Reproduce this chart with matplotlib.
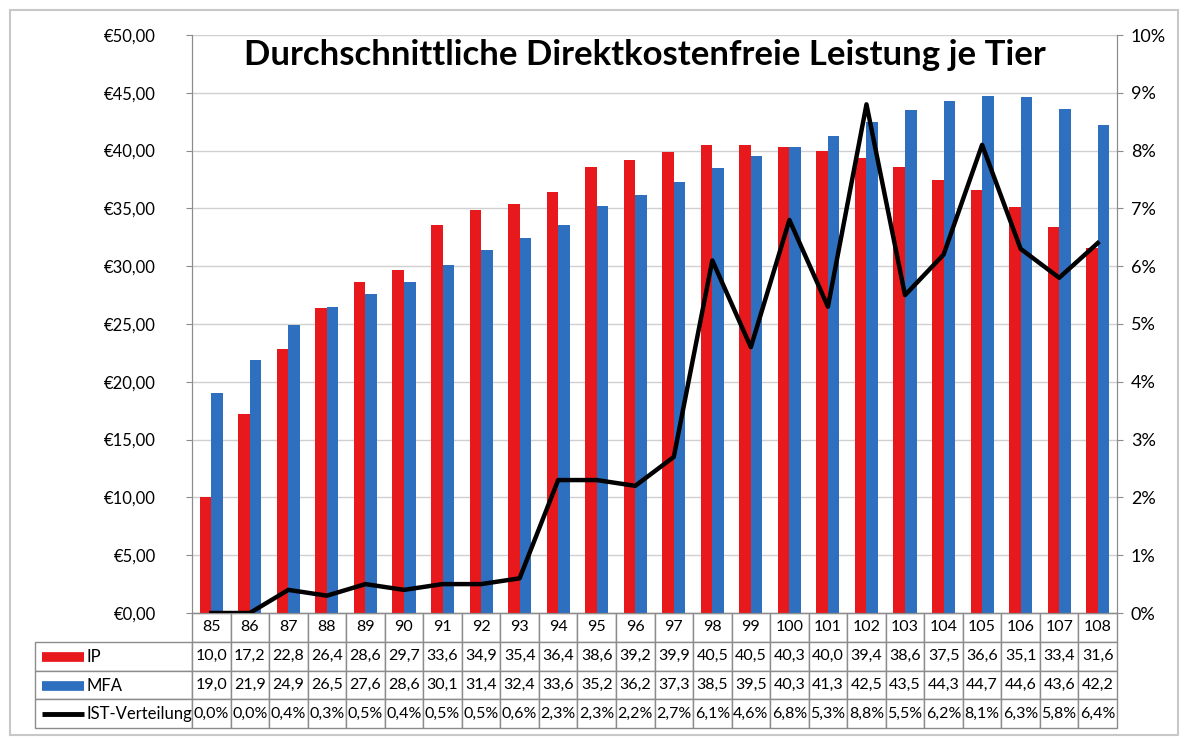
import matplotlib.pyplot as plt
import matplotlib.patches as patches
from matplotlib.ticker import FuncFormatter, MultipleLocator
import numpy as np

plt.rcParams['font.family'] = ['Lato', 'DejaVu Sans']

categories = [85, 86, 87, 88, 89, 90, 91, 92, 93, 94, 95, 96,
              97, 98, 99, 100, 101, 102, 103, 104, 105, 106, 107, 108]
ip = [10.0, 17.2, 22.8, 26.4, 28.6, 29.7, 33.6, 34.9, 35.4, 36.4, 38.6, 39.2,
      39.9, 40.5, 40.5, 40.3, 40.0, 39.4, 38.6, 37.5, 36.6, 35.1, 33.4, 31.6]
mfa = [19.0, 21.9, 24.9, 26.5, 27.6, 28.6, 30.1, 31.4, 32.4, 33.6, 35.2, 36.2,
       37.3, 38.5, 39.5, 40.3, 41.3, 42.5, 43.5, 44.3, 44.7, 44.6, 43.6, 42.2]
ist = [0.0, 0.0, 0.4, 0.3, 0.5, 0.4, 0.5, 0.5, 0.6, 2.3, 2.3, 2.2,
       2.7, 6.1, 4.6, 6.8, 5.3, 8.8, 5.5, 6.2, 8.1, 6.3, 5.8, 6.4]
row_labels = ["IP", "MFA", "IST-Verteilung"]
title = "Durchschnittliche Direktkostenfreie Leistung je Tier"

RED = '#E8191C'
BLUE = '#2F6FC0'
GRID = '#D0D0D0'
EDGE = '#8C8C8C'

fig = plt.figure(figsize=(11.84, 7.38), dpi=100)
ax = fig.add_axes([192 / 1184, 1 - 613 / 738, 925 / 1184, 578 / 738])

x = np.arange(len(categories))
w = 0.3
ax.bar(x - w / 2, ip, width=w, color=RED, zorder=2)
ax.bar(x + w / 2, mfa, width=w, color=BLUE, zorder=2)

ax.set_xlim(-0.5, len(categories) - 0.5)
ax.set_ylim(0, 50)
ax.yaxis.set_major_locator(MultipleLocator(5))
ax.yaxis.set_major_formatter(FuncFormatter(lambda v, p: "€" + f"{v:.2f}".replace('.', ',')))
ax.grid(axis='y', color=GRID, linewidth=1, zorder=0)
ax.set_axisbelow(True)
ax.set_xticks(np.arange(len(categories) + 1) - 0.5)
ax.set_xticklabels([])
ax.tick_params(axis='x', length=0)
ax.tick_params(axis='y', length=4, color=EDGE, labelsize=12, pad=22)
ax.spines['top'].set_visible(False)
for s in ['left', 'right', 'bottom']:
    ax.spines[s].set_color(EDGE)

ax2 = ax.twinx()
ax2.plot(x, [v / 100 for v in ist], color='black', linewidth=3.2, zorder=3)
ax2.set_ylim(0, 0.10)
ax2.yaxis.set_major_locator(MultipleLocator(0.01))
ax2.yaxis.set_major_formatter(FuncFormatter(lambda v, p: f"{v * 100:.0f}%"))
ax2.tick_params(axis='y', length=4, color=EDGE, labelsize=13, pad=6)
ax2.spines['top'].set_visible(False)
for s in ['left', 'right', 'bottom']:
    ax2.spines[s].set_color(EDGE)

ax.text(0.49, 0.965, title, transform=ax.transAxes, ha='center', va='center',
        fontsize=25, fontweight='bold')

# data table under the plot
fmt = lambda v: f"{v:.1f}".replace('.', ',')
cell_text = [[""] + [fmt(v) for v in ip],
             [""] + [fmt(v) for v in mfa],
             [""] + [fmt(v) + "%" for v in ist]]
col_labels = [""] + [str(c) for c in categories]
label_w = 157 / 1082
data_w = (1 - label_w) / len(categories)
left = -157 / 925
tbl = ax.table(cellText=cell_text, colLabels=col_labels, cellLoc='center',
               colWidths=[label_w] + [data_w] * len(categories),
               bbox=[left, -115 / 578, 1 - left, 115 / 578])
tbl.auto_set_font_size(False)
tbl.set_fontsize(11.5)
for (r, c), cell in tbl.get_celld().items():
    cell.set_edgecolor(EDGE)
    cell.set_linewidth(1)
    cell.PAD = 0.02
tbl[0, 0].set_visible(False)

# legend keys in the label column
row_y = [(613 - 657) / 578, (613 - 686) / 578, (613 - 714) / 578]
key_x0 = (42 - 192) / 925
key_x1 = (84 - 192) / 925
text_x = (87 - 192) / 925
key_styles = [(RED, 7), (BLUE, 7), ('black', 3.5)]
for yy, lab, (col, lw) in zip(row_y, row_labels, key_styles):
    ax.plot([key_x0, key_x1], [yy, yy], color=col, linewidth=lw,
            transform=ax.transAxes, clip_on=False, solid_capstyle='butt')
    ax.text(text_x, yy, lab, transform=ax.transAxes, ha='left', va='center',
            fontsize=12)

# outer frame
fig.patches.append(patches.Rectangle((10 / 1184, 1 - 735 / 738), 1168 / 1184, 725 / 738,
                                     transform=fig.transFigure, fill=False,
                                     edgecolor='#C8C8C8', linewidth=1.5))

fig.savefig('out.png', dpi=100)
